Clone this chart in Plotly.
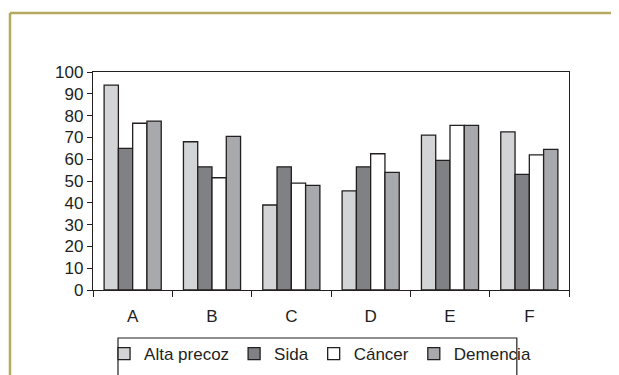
import plotly.graph_objects as go

categories = ["A", "B", "C", "D", "E", "F"]
alta_precoz = [94, 68, 39, 45.5, 71, 72.5]
sida = [65, 56.5, 56.5, 56.5, 59.5, 53]
cancer = [76.5, 51.5, 49, 62.5, 75.5, 62]
demencia = [77.5, 70.5, 48, 54, 75.5, 64.5]
y_ticks = list(range(0, 101, 10))

series = [
    ("Alta precoz", alta_precoz, "#d3d4d6"),
    ("Sida", sida, "#808184"),
    ("Cáncer", cancer, "#ffffff"),
    ("Demencia", demencia, "#a8a9ac"),
]

FONT = "Liberation Sans, Arial, Helvetica, sans-serif"

fig = go.Figure()
for name, vals, col in series:
    fig.add_trace(go.Bar(
        x=categories, y=vals, name=name,
        marker=dict(color=col, line=dict(color="#231f20", width=1.3)),
    ))

# page has an 8px body margin, so the figure is sized/offset to compensate
fig.update_layout(
    width=611, height=367,
    margin=dict(l=85, r=50, t=64, b=85, autoexpand=False),
    paper_bgcolor="white", plot_bgcolor="white",
    barmode="group", bargap=0.28, bargroupgap=0,
    font=dict(family=FONT, color="#231f20", size=17),
    showlegend=True,
    legend=dict(
        orientation="h", x=0.477, xanchor="center", y=-0.211, yanchor="top",
        font=dict(size=17, family=FONT, color="#231f20"),
        bgcolor="rgba(0,0,0,0)", borderwidth=0,
        itemwidth=30, tracegroupgap=0,
    ),
    xaxis=dict(
        showline=True, linecolor="#231f20", linewidth=1.3, mirror=True,
        ticks="outside", tickson="boundaries", ticklen=6, tickcolor="#231f20",
        tickwidth=1.3, showgrid=False, tickfont=dict(size=17),
        ticklabelstandoff=10,
    ),
    yaxis=dict(
        range=[0, 100], tickvals=y_ticks,
        showline=True, linecolor="#231f20", linewidth=1.3, mirror=True,
        ticks="outside", ticklen=5, tickcolor="#231f20", tickwidth=1.3,
        showgrid=False, zeroline=False, tickfont=dict(size=17),
    ),
    shapes=[
        # olive outer frame (top + left)
        dict(type="line", xref="paper", yref="paper", x0=-0.1744, x1=1.2, y0=1.2706, y1=1.2706,
             line=dict(color="#b4a95c", width=2.5)),
        dict(type="line", xref="paper", yref="paper", x0=-0.1744, x1=-0.1744, y0=1.2706, y1=-0.45,
             line=dict(color="#b4a95c", width=2.5)),
        # legend box
        dict(type="rect", xref="paper", yref="paper", x0=0.0525, x1=0.8904, y0=-0.2202, y1=-0.45,
             line=dict(color="#231f20", width=1.2), fillcolor="rgba(0,0,0,0)"),
    ],
)

fig.write_html("out.html")
